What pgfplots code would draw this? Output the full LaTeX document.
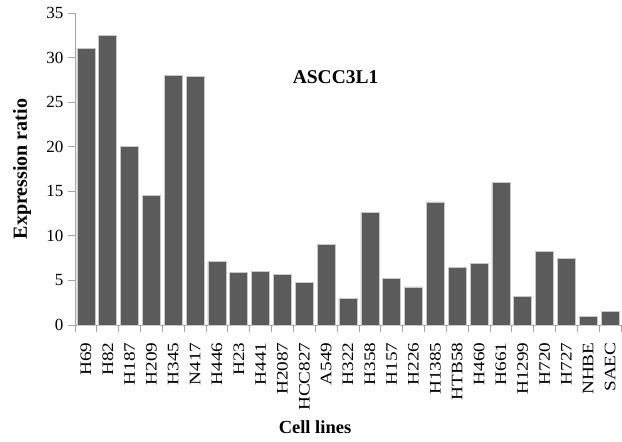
\documentclass[border=0pt]{standalone}
\usepackage{pgfplots}
\pgfplotsset{compat=1.18}
\usepackage{fontspec}
\setmainfont{Liberation Serif}
\definecolor{barfill}{HTML}{5B5B5B}
\definecolor{baredge}{HTML}{C8C8C8}
\definecolor{axgray}{HTML}{A6A6A6}
\newcommand{\Sx}[1]{\scalebox{1.2}[1]{#1}}
\begin{document}
\begin{tikzpicture}
\path[use as bounding box] (-75pt,-117pt) rectangle (547pt,325pt);
\begin{axis}[
  at={(0pt,0pt)}, anchor=south west,
  scale only axis,
  width=546pt, height=312pt,
  xmin=-0.5, xmax=24.5,
  ymin=0, ymax=35,
  axis x line*=bottom, axis y line*=left,
  axis line style={axgray, line width=0.8pt},
  every tick/.style={axgray, line width=0.8pt},
  tick align=outside,
  major tick length=7pt,
  ytick={0,5,...,35},
  xtick={0,...,24},
  major x tick style={draw=none},
  minor xtick={-0.5,0.5,...,24.5},
  minor tick length=7pt,
  xticklabels={\Sx{H69},\Sx{H82},\Sx{H187},\Sx{H209},\Sx{H345},\Sx{N417},\Sx{H446},\Sx{H23},\Sx{H441},\Sx{H2087},\Sx{HCC827},\Sx{A549},\Sx{H322},\Sx{H358},\Sx{H157},\Sx{H226},\Sx{H1385},\Sx{HTB58},\Sx{H460},\Sx{H661},\Sx{H1299},\Sx{H720},\Sx{H727},\Sx{NHBE},\Sx{SAEC}},
  xticklabel style={rotate=90, anchor=east, font=\fontsize{16}{18}\selectfont},
  xticklabel shift=7pt,
  yticklabel style={font=\fontsize{17}{19}\selectfont},
  yticklabel shift=1pt,
  /pgf/number format/assume math mode=true,
  ylabel={Expression ratio},
  every axis y label/.style={at={(-53pt,156pt)}, rotate=90, anchor=center, font=\fontsize{20}{22}\selectfont\bfseries},
  clip=false,
]
\addplot[ybar, bar width=18pt, fill=barfill, draw=baredge, line width=0.6pt] coordinates {
(0,31.0) (1,32.5) (2,20.0) (3,14.5) (4,28.0) (5,27.9) (6,7.15) (7,5.9) (8,6.0) (9,5.7)
(10,4.8) (11,9.0) (12,2.95) (13,12.65) (14,5.2) (15,4.27) (16,13.8) (17,6.5) (18,6.9)
(19,16.0) (20,3.25) (21,8.27) (22,7.5) (23,1.0) (24,1.57)
};
\node[font=\fontsize{19.5}{21}\selectfont\bfseries] at (axis cs:11.43,27.8) {ASCC3L1};
\end{axis}
\node[font=\fontsize{18.5}{20}\selectfont\bfseries] at (240pt,-102pt) {Cell lines};
\end{tikzpicture}
\end{document}
